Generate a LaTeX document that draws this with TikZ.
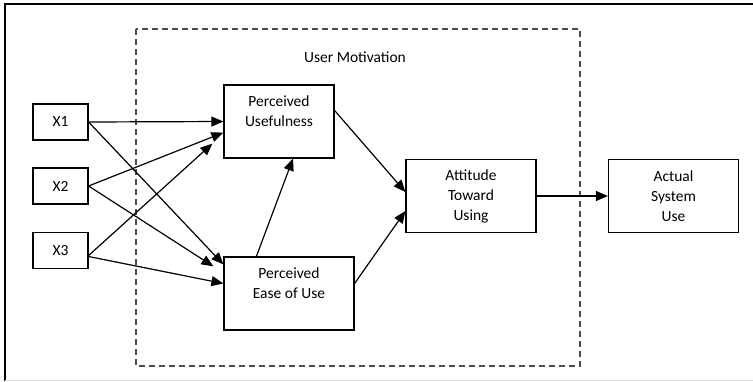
\documentclass[tikz,border=0pt]{standalone}
\usepackage{fontspec}
\setmainfont{Carlito}
\usetikzlibrary{arrows.meta}

\tikzset{
  box/.style={draw=black, line width=1.2pt, align=center, inner sep=0pt},
  xbox/.style={box, minimum width=55pt, minimum height=36pt},
  bigbox/.style={box, minimum width=130pt, minimum height=73pt},
  path/.style={line width=1.2pt, -{Triangle[length=12pt, width=10pt]}},
  group/.style={draw=black!70, line width=1.3pt, dash pattern=on 6pt off 4pt}
}

\begin{document}
\begin{tikzpicture}[x=1pt, y=-1pt, font=\fontsize{15.5}{20}\selectfont]

\useasboundingbox (0,0) rectangle (753,381);

% frame
\draw[line width=2pt, black] (5,381) -- (5,4) -- (753,4);
\draw[line width=1pt, black!12] (5,380) -- (753,380);

% user motivation
\draw[group] (136,29) rectangle (580,366);
\node (um) at (355,57) {User Motivation};

\node[xbox] (x1) at (60.5,122) {X1};
\node[xbox] (x2) at (60.5,186) {X2};
\node[xbox] (x3) at (60.5,250.5) {X3};

\node[bigbox, minimum width=110pt] (pu) at (279,121.5) {Perceived\\Usefulness\\\mbox{}};
\node[bigbox] (peou) at (289,293.5) {Perceived\\Ease of Use\\\mbox{}};
\node[bigbox] (atu) at (471,196) {Attitude\\Toward\\Using};
\node[bigbox] (asu) at (673.5,196) {Actual\\System\\Use};

\draw[path] (x1.east) -- (pu.west);
\draw[path] (x1.east) -- ([yshift=-8pt]peou.north west);
\draw[path] (x2.east) -- ([yshift=26pt]pu.south west);
\draw[path] (x2.east) -- ([xshift=-10pt, yshift=-10pt]peou.north west);
\draw[path] ([yshift=-5pt]x3.east) -- ([xshift=-11pt, yshift=15pt]pu.south west);
\draw[path] ([yshift=-6pt]x3.east) -- ([yshift=10pt]peou.west);

\draw[path] ([xshift=33pt]peou.north west) -- ([xshift=14pt]pu.south);
\draw[path] ([yshift=11pt]pu.east) -- ([yshift=4pt]atu.west);
\draw[path] ([yshift=10pt]peou.east) -- ([yshift=-15pt]atu.west);
\draw[path] (atu.east) -- (asu.west);

\end{tikzpicture}
\end{document}
